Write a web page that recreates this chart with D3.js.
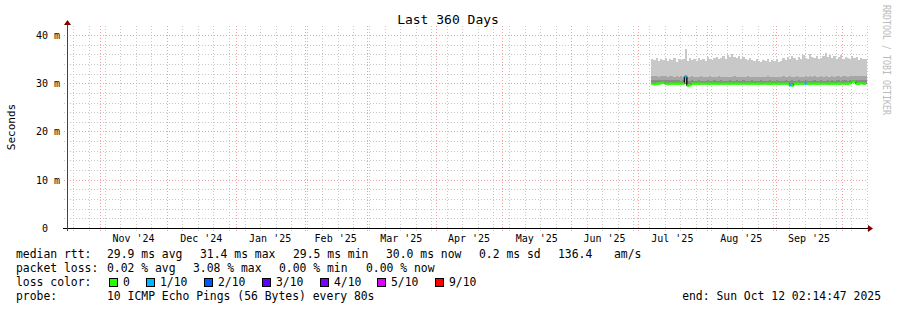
<!DOCTYPE html>
<html>
<head>
<meta charset="utf-8">
<script src="https://cdn.jsdelivr.net/npm/d3@7/dist/d3.min.js"></script>
<style>
body { margin: 0; background: #fff; }
svg { display: block; }
text { font-family: "DejaVu Sans Mono", monospace; fill: #000; }
</style>
</head>
<body>
<div id="chart"></div>
<script>
var width = 897, height = 310;
var plotLeft = 67, plotRight = 867, plotTop = 26, plotBottom = 228;

var timeStart = new Date(2024, 9, 17, 2, 14, 47);
var timeEnd = new Date(2025, 9, 12, 2, 14, 47);
var firstDataDay = new Date(2025, 6, 7);

// daily values (ms) from Jul 7 2025 on
var maxRtt = [
  35.0,34.8,35.2,34.6,35.1,34.9,35.3,34.7,35.0,34.8,35.2,34.5,
  35.1,34.9,35.0,37.1,34.6,35.2,34.8,35.0,34.7,35.3,34.9,35.1,
  34.6,35.4,35.0,34.8,35.2,35.5,35.0,35.3,35.6,35.1,35.8,35.4,
  36.0,35.5,35.2,35.7,35.0,35.4,35.1,34.8,35.2,34.9,34.6,35.0,
  34.7,34.5,34.9,34.6,35.1,34.4,34.8,34.6,35.0,34.3,34.7,35.2,
  34.9,35.4,35.0,35.6,35.2,34.8,35.5,35.1,35.8,35.3,35.0,36.1,
  35.4,35.2,35.7,35.0,35.3,35.6,36.2,35.5,35.9,35.2,35.6,35.0,
  35.4,35.8,35.1,35.5,35.3,35.0,35.6,35.2,35.4,34.9,35.3,35.1
];
var upperRtt = [
  31.5,31.4,31.6,31.3,31.5,31.6,31.4,31.3,31.5,31.4,31.3,31.4,
  31.3,31.4,31.2,31.8,31.2,31.3,31.4,31.3,31.2,31.3,31.4,31.3,
  31.2,31.3,31.4,31.3,31.2,31.3,31.4,31.3,31.2,31.3,31.3,31.2,
  31.3,31.4,31.2,31.3,31.3,31.2,31.3,31.4,31.3,31.2,31.3,31.3,
  31.2,31.3,31.2,31.3,31.4,31.2,31.3,31.2,31.3,31.2,31.3,31.4,
  31.3,31.2,31.4,31.3,31.2,31.4,31.3,31.2,31.3,31.5,31.3,31.4,
  31.3,31.4,31.2,31.3,31.5,31.3,31.4,31.2,31.3,31.4,31.3,31.5,
  31.4,31.3,31.5,31.4,31.3,31.4,31.6,31.5,31.4,31.6,31.4,31.5
];
var lowerRtt = [
  30.7,30.6,30.7,30.6,30.6,30.7,30.6,30.6,30.7,30.6,30.6,30.6,
  30.6,30.5,30.6,31.0,30.5,30.5,30.6,30.5,30.5,30.6,30.5,30.5,
  30.5,30.6,30.5,30.5,30.6,30.5,30.5,30.6,30.5,30.5,30.5,30.6,
  30.5,30.5,30.6,30.5,30.5,30.6,30.5,30.5,30.5,30.6,30.5,30.5,
  30.5,30.6,30.5,30.5,30.5,30.6,30.5,30.5,30.6,30.5,30.5,30.5,
  30.6,30.5,30.5,30.6,30.5,30.5,30.6,30.5,30.5,30.6,30.5,30.5,
  30.5,30.6,30.5,30.5,30.6,30.5,30.5,30.6,30.5,30.6,30.5,30.6,
  30.6,30.5,30.6,30.6,30.5,30.6,30.7,30.7,30.6,30.7,30.6,30.6
];
var medianRtt = [
  29.9,29.8,29.9,29.9,30.0,30.1,29.9,29.8,29.9,29.9,29.9,29.9,
  29.9,29.9,29.9,31.4,29.5,29.6,29.9,29.9,29.9,29.9,29.9,29.9,
  29.9,29.9,29.9,29.9,29.9,29.9,29.9,29.9,29.9,29.9,29.9,29.9,
  29.9,29.9,29.9,29.9,29.9,29.9,29.9,29.9,29.9,29.9,29.9,29.9,
  29.9,29.9,29.9,29.9,29.9,29.9,29.9,29.9,29.9,29.9,29.9,29.9,
  29.9,29.9,29.6,29.5,29.9,29.9,29.9,29.9,29.9,29.9,29.9,29.9,
  29.9,29.9,29.9,29.9,29.9,29.9,29.9,29.9,29.9,29.9,29.9,29.9,
  29.9,29.9,29.9,29.9,29.9,30.0,30.3,30.3,29.9,29.9,30.0,29.9
];
var lossDays = [15, 62, 69];
var lossLevel = [1, 1, 1];

var yMinor = d3.range(2, 42, 2);
var yMajor = [0, 10, 20, 30, 40];

var lossLabels = ["0", "1/10", "2/10", "3/10", "4/10", "5/10", "9/10"];
var lossColors = ["#26ff00", "#00b8ff", "#0059ff", "#5e00ff", "#7e00ff", "#dd00ff", "#ff0000"];
var rttStats = [29.9, 31.4, 29.5, 30.0, 0.2, 136.4];
var lossStats = [0.02, 3.08, 0.00, 0.00];

var svg = d3.select('#chart').append('svg')
            .attr('width', width)
            .attr('height', height);

var x = d3.scaleTime().domain([timeStart, timeEnd]).range([plotLeft, plotRight]);
var y = d3.scaleLinear().domain([0, 41.86]).range([plotBottom, plotTop]);

// grid
var grid = svg.append('g').attr('shape-rendering', 'crispEdges');
grid.selectAll('.hminor')
    .data(yMinor.filter(function(v){ return v % 10 !== 0; }))
    .enter().append('line')
    .attr('x1', plotLeft - 3).attr('x2', plotRight)
    .attr('y1', function(d){ return Math.round(y(d)) + 0.5; })
    .attr('y2', function(d){ return Math.round(y(d)) + 0.5; })
    .attr('stroke', '#c8c8c8').attr('stroke-dasharray', '1,2');

var weeks = d3.timeSunday.range(timeStart, timeEnd);
grid.selectAll('.vminor')
    .data(weeks)
    .enter().append('line')
    .attr('x1', function(d){ return Math.round(x(d)) + 0.5; })
    .attr('x2', function(d){ return Math.round(x(d)) + 0.5; })
    .attr('y1', plotTop).attr('y2', plotBottom + 3)
    .attr('stroke', '#c8c8c8').attr('stroke-dasharray', '1,2');

grid.selectAll('.hmajor')
    .data(yMajor.filter(function(v){ return v > 0; }))
    .enter().append('line')
    .attr('x1', plotLeft - 3).attr('x2', plotRight)
    .attr('y1', function(d){ return Math.round(y(d)) + 0.5; })
    .attr('y2', function(d){ return Math.round(y(d)) + 0.5; })
    .attr('stroke', '#f0a0a0').attr('stroke-dasharray', '1,2');

var months = d3.timeMonth.range(timeStart, timeEnd);
grid.selectAll('.vmajor')
    .data(months)
    .enter().append('line')
    .attr('x1', function(d){ return Math.round(x(d)) + 0.5; })
    .attr('x2', function(d){ return Math.round(x(d)) + 0.5; })
    .attr('y1', plotTop).attr('y2', plotBottom + 3)
    .attr('stroke', '#f0a0a0').attr('stroke-dasharray', '1,2');

// smoke
var days = maxRtt.map(function(v, i){
    return {
        t: d3.timeDay.offset(firstDataDay, i),
        max: v, up: upperRtt[i], low: lowerRtt[i], med: medianRtt[i]
    };
});
var stepData = days.concat([Object.assign({}, days[days.length - 1], {t: timeEnd})]);

function band(lo, hi, color) {
    var area = d3.area()
        .curve(d3.curveStepAfter)
        .x(function(d){ return x(d.t); })
        .y0(function(d){ return y(d[lo]); })
        .y1(function(d){ return y(d[hi]); });
    svg.append('path').datum(stepData)
        .attr('d', area)
        .attr('fill', color)
        .attr('shape-rendering', 'crispEdges');
}
band('up', 'max', '#c8c8c8');
band('low', 'up', '#a6a6a6');
band('med', 'low', '#8a8a8a');

// median line, coloured by loss
var lossByDay = {};
lossDays.forEach(function(d, i){ lossByDay[d] = lossLevel[i]; });

var medianGroup = svg.append('g');
days.forEach(function(d, i){
    if (i > 0 && medianRtt[i - 1] !== d.med) {
        medianGroup.append('line')
            .attr('x1', x(d.t)).attr('x2', x(d.t))
            .attr('y1', y(medianRtt[i - 1])).attr('y2', y(d.med))
            .attr('stroke', '#111').attr('stroke-width', 1.5);
    }
});
medianGroup.selectAll('.med')
    .data(days)
    .enter().append('line')
    .attr('x1', function(d){ return x(d.t); })
    .attr('x2', function(d, i){ return i < days.length - 1 ? x(days[i + 1].t) : x(timeEnd) - 1; })
    .attr('y1', function(d){ return y(d.med); })
    .attr('y2', function(d){ return y(d.med); })
    .attr('stroke', function(d, i){ return lossColors[lossByDay[i] || 0]; })
    .attr('stroke-width', 2.5);

// axes
var axis = svg.append('g').attr('shape-rendering', 'crispEdges');
axis.append('line')
    .attr('x1', plotLeft - 4).attr('x2', plotRight + 2)
    .attr('y1', plotBottom + 0.5).attr('y2', plotBottom + 0.5)
    .attr('stroke', '#000');
axis.append('line')
    .attr('x1', plotLeft + 0.5).attr('x2', plotLeft + 0.5)
    .attr('y1', plotBottom + 3).attr('y2', plotTop - 3)
    .attr('stroke', '#444');
svg.append('path')
    .attr('d', 'M' + (plotRight + 1) + ',' + (plotBottom - 3) + 'L' + (plotRight + 6) + ',' + (plotBottom + 0.5) + 'L' + (plotRight + 1) + ',' + (plotBottom + 4) + 'Z')
    .attr('fill', '#7f0000');
svg.append('path')
    .attr('d', 'M' + (plotLeft - 3) + ',' + (plotTop - 1) + 'L' + (plotLeft + 0.5) + ',' + (plotTop - 6) + 'L' + (plotLeft + 4) + ',' + (plotTop - 1) + 'Z')
    .attr('fill', '#7f0000');

// y labels
svg.selectAll('.ylab')
    .data(yMajor)
    .enter().append('text')
    .attr('x', function(d){ return d === 0 ? 48 : 60; })
    .attr('y', function(d){ return y(d) + 4; })
    .attr('text-anchor', 'end')
    .style('font-size', '10px')
    .text(function(d){ return d === 0 ? '0' : d + ' m'; });

// month labels
var monthFmt = d3.timeFormat("%b '%y");
var labelMonths = d3.timeMonth.range(d3.timeMonth.floor(timeStart), timeEnd).filter(function(m){
    var mid = new Date((+m + +d3.timeMonth.offset(m, 1)) / 2);
    return x(mid) > plotLeft + 20 && x(mid) < plotRight - 20;
});
svg.selectAll('.xlab')
    .data(labelMonths)
    .enter().append('text')
    .attr('x', function(m){ return x(new Date((+m + +d3.timeMonth.offset(m, 1)) / 2)); })
    .attr('y', 242)
    .attr('text-anchor', 'middle')
    .style('font-size', '10px')
    .text(monthFmt);

// titles
svg.append('text')
    .attr('x', 448).attr('y', 24)
    .attr('text-anchor', 'middle')
    .style('font-size', '13px')
    .text('Last 360 Days');

svg.append('text')
    .attr('transform', 'translate(15,127) rotate(-90)')
    .attr('text-anchor', 'middle')
    .style('font-size', '11px')
    .text('Seconds');

svg.append('text')
    .attr('transform', 'translate(883,5) rotate(90)')
    .attr('textLength', 110)
    .attr('lengthAdjust', 'spacingAndGlyphs')
    .style('font-size', '10px')
    .style('fill', '#bbbbbb')
    .text('RRDTOOL / TOBI OETIKER');

// legend
function legendText(xPos, yPos, str, anchor) {
    svg.append('text')
        .attr('x', xPos).attr('y', yPos)
        .attr('text-anchor', anchor || 'start')
        .attr('xml:space', 'preserve')
        .style('font-size', '11.4px')
        .text(str);
}
var fmt1 = d3.format('.1f'), fmt2 = d3.format('.2f');

legendText(16, 258, 'median rtt:');
var rttWords = ['avg', 'max', 'min', 'now'];
var rttX = [107, 200, 293, 386];
rttWords.forEach(function(w, i){
    legendText(rttX[i], 258, fmt1(rttStats[i]) + ' ms ' + w);
});
legendText(479, 258, fmt1(rttStats[4]) + ' ms sd');
legendText(558, 258, fmt1(rttStats[5]));
legendText(614, 258, 'am/s');

legendText(16, 272, 'packet loss:');
var lossX = [107, 193, 279, 366];
rttWords.forEach(function(w, i){
    legendText(lossX[i], 272, fmt2(lossStats[i]) + ' % ' + w);
});

legendText(16, 286, 'loss color:');
var boxX = [109, 146, 204, 262, 320, 377, 435];
svg.selectAll('.lbox')
    .data(lossColors)
    .enter().append('rect')
    .attr('x', function(d, i){ return boxX[i] + 0.5; })
    .attr('y', 278.5)
    .attr('width', 8).attr('height', 8)
    .attr('fill', function(d){ return d; })
    .attr('stroke', '#000')
    .attr('shape-rendering', 'crispEdges');
lossLabels.forEach(function(l, i){
    legendText(boxX[i] + 14, 286, l);
});

legendText(16, 300, 'probe:');
legendText(107, 300, '10 ICMP Echo Pings (56 Bytes) every 80s');
legendText(881, 300, 'end: Sun Oct 12 02:14:47 2025', 'end');
</script>
</body>
</html>
